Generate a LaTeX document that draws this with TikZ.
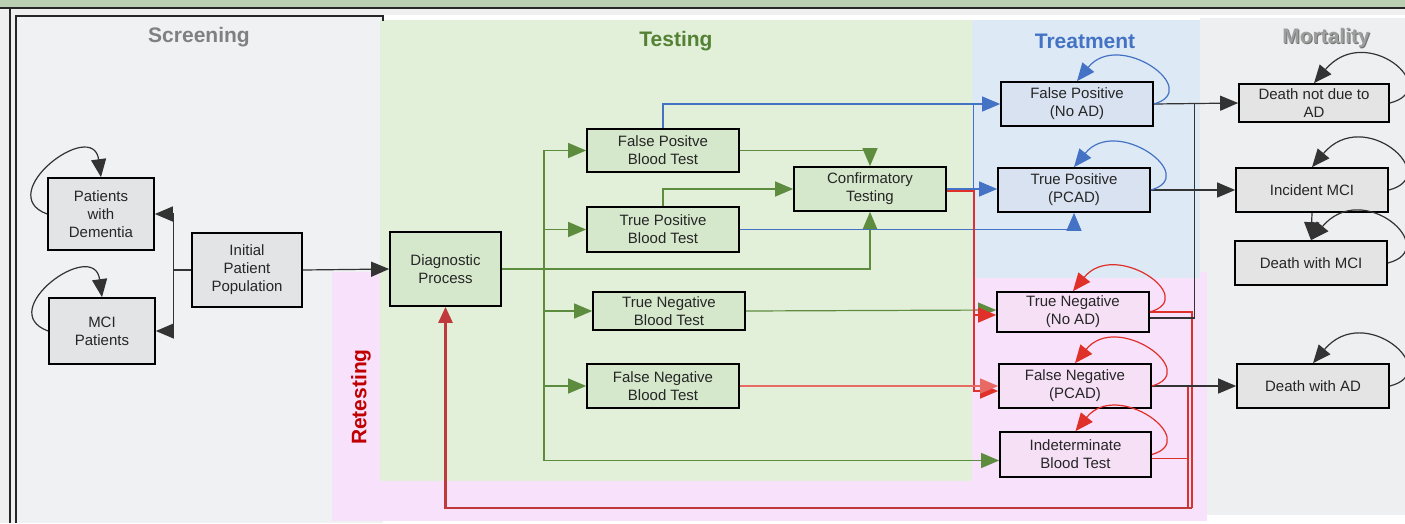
\documentclass[tikz,border=0pt]{standalone}
\usepackage{fontspec}
\setmainfont{Liberation Sans}
\usetikzlibrary{arrows.meta,calc}

\definecolor{bandgreen}{HTML}{BACFB1}
\definecolor{stripgrey}{HTML}{EFEFEF}
\definecolor{scrbg}{HTML}{F0F1F3}
\definecolor{tstbg}{HTML}{E2EFD9}
\definecolor{trtbg}{HTML}{DDE9F5}
\definecolor{morbg}{HTML}{EEEFF0}
\definecolor{rtsbg}{HTML}{F8E1FB}
\definecolor{scrnode}{HTML}{E3E4E6}
\definecolor{tstnode}{HTML}{D5E8CC}
\definecolor{trtnode}{HTML}{D9E2F1}
\definecolor{rtsnode}{HTML}{F6E0F6}
\definecolor{mornode}{HTML}{E4E4E4}
\definecolor{gline}{HTML}{5E8C3F}
\definecolor{bline}{HTML}{4472C4}
\definecolor{rline}{HTML}{E0302A}
\definecolor{rlight}{HTML}{E86A64}
\definecolor{rdark}{HTML}{C0393B}
\definecolor{kline}{HTML}{333333}
\definecolor{ttlgrey}{HTML}{808080}
\definecolor{ttlgreen}{HTML}{548235}
\definecolor{ttlblue}{HTML}{4472C4}
\definecolor{ttlred}{HTML}{C00000}
\definecolor{txt}{HTML}{262626}

\tikzset{
  box/.style={draw=black, line width=1.7pt, align=center, inner sep=1pt,
    text=txt, font=\fontsize{15}{18}\selectfont},
  scrbox/.style={box, fill=scrnode},
  tstbox/.style={box, fill=tstnode},
  trtbox/.style={box, fill=trtnode},
  rtsbox/.style={box, fill=rtsnode},
  morbox/.style={box, fill=mornode},
  title/.style={font=\fontsize{21}{24}\selectfont\bfseries},
  tip/.style={-{Triangle[length=18pt,width=15pt]}},
  conn/.style={line width=1.2pt},
  karr/.style={conn, draw=kline, tip},
  kln/.style={conn, draw=kline},
  garr/.style={conn, draw=gline, tip},
  gln/.style={conn, draw=gline},
  gbus/.style={line width=2.6pt, draw=gline},
  barr/.style={conn, draw=bline, tip},
  bln/.style={conn, draw=bline},
  rarr/.style={line width=1.5pt, draw=rline, tip},
  rlarr/.style={conn, draw=rlight, tip},
  rln/.style={line width=1.3pt, draw=rline},
  rret/.style={line width=2.6pt, draw=rdark, -{Triangle[length=16pt,width=14pt]}},
  kloop/.style={conn, draw=kline, tip},
  bloop/.style={conn, draw=bline, tip},
  rloop/.style={conn, draw=rline, tip},
}

\begin{document}
\begin{tikzpicture}[x=1pt,y=-1pt]
\useasboundingbox (0,0) rectangle (1405,523);
\clip (0,0) rectangle (1405,523);

% backgrounds of the five stages
\fill[white] (0,0) rectangle (1405,523);
\fill[bandgreen] (0,0) rectangle (1405,8);
\fill[stripgrey] (0,8) rectangle (1405,15);
\fill[stripgrey] (0,8) rectangle (16,523);
\fill[scrbg] (16,16) rectangle (383,523);
\fill[morbg] (1200,18) rectangle (1405,515);
\fill[rtsbg] (332,272) rectangle (1207,521);
\fill[tstbg] (380,20) rectangle (972,481);
\fill[trtbg] (972,20) rectangle (1200,278);

% frame lines
\draw[line width=1.4pt, black!85] (0,8) -- (1405,8);
\draw[line width=1.1pt, black!85] (10,8) -- (10,523);
\draw[line width=1.6pt, black!85] (16,523) -- (16,16) -- (383,16) -- (383,21);

% stage titles
\node[title, text=ttlgrey] (tscr) at (199,37) {Screening};
\node[title, text=ttlgreen] (ttst) at (676,41) {Testing};
\node[title, text=ttlblue] (ttrt) at (1085,41) {Treatment};
\node[title, text=black!55] (tmors) at (1327,39) {Mortality};
\node[title, text=black!38] (tmor) at (1326,38) {Mortality};
\node[title, text=ttlred, rotate=90] (trts) at (361,397) {Retesting};

% screening
\node[scrbox, minimum width=106, minimum height=72] (dem) at (101,214) {Patients\\with\\Dementia};
\node[scrbox, minimum width=106, minimum height=66] (mci) at (102,331) {MCI\\Patients};
\node[scrbox, minimum width=110, minimum height=74] (init) at (247,270) {Initial\\Patient\\Population};

% testing
\node[tstbox, minimum width=111, minimum height=74] (diag) at (445.5,269) {Diagnostic\\Process};
\node[tstbox, minimum width=152, minimum height=43] (fpb) at (663,150.5) {False Positve\\Blood Test};
\node[tstbox, minimum width=152, minimum height=45] (tpb) at (663,229.5) {True Positive\\Blood Test};
\node[tstbox, minimum width=152, minimum height=38] (tnb) at (669,311) {True Negative\\Blood Test};
\node[tstbox, minimum width=152, minimum height=44] (fnb) at (663,386) {False Negative\\Blood Test};
\node[tstbox, minimum width=152, minimum height=44] (conf) at (870,189) {Confirmatory\\Testing};

% treatment and retesting states
\node[trtbox, minimum width=152, minimum height=44] (fpn) at (1077,104) {False Positive\\(No AD)};
\node[trtbox, minimum width=152, minimum height=44] (tpn) at (1074,190) {True Positive\\(PCAD)};
\node[rtsbox, minimum width=152, minimum height=40] (tnn) at (1073,312) {True Negative\\(No AD)};
\node[rtsbox, minimum width=152, minimum height=44] (fnn) at (1075,386) {False Negative\\(PCAD)};
\node[rtsbox, minimum width=151, minimum height=45] (ind) at (1075.5,454.5) {Indeterminate\\Blood Test};

% mortality
\node[morbox, minimum width=150, minimum height=38] (dna) at (1314,103) {Death not due to\\AD};
\node[morbox, minimum width=152, minimum height=44] (imc) at (1312,190) {Incident MCI};
\node[morbox, minimum width=152, minimum height=44] (dmc) at (1311,263) {Death with MCI};
\node[morbox, minimum width=152, minimum height=44] (dad) at (1313,386) {Death with AD};

% screening connectors
\draw[karr] (init.west) -- ++(-18,0) |- (dem.east);
\draw[karr] (init.west) -- ++(-18,0) |- (mci.east);
\draw[karr] (init.east) -- (diag.west);
\draw[kloop] (dem.west) .. controls +(-55,-20) and +(-8,-60) .. (dem.north);
\draw[kloop] (mci.west) .. controls +(-55,-20) and +(-8,-60) .. (mci.north);

% testing connectors
\coordinate (bus) at (544,269);
\draw[gbus] (diag.east) -- (bus);
\draw[gln] (bus |- fpb.west) -- (bus |- ind.west);
\draw[garr] (bus) |- (fpb.west);
\draw[garr] (bus) |- (tpb.west);
\draw[garr] (bus) |- (tnb.west);
\draw[garr] (bus) |- (fnb.west);
\draw[garr] (bus) |- ([yshift=-6pt]ind.west);
\draw[garr] (diag.east) -| (conf.south);
\draw[garr] (fpb.east) -| (conf.north);
\draw[garr] (tpb.north) |- (conf.west);
\draw[garr] (tnb.east) -- ([yshift=2pt]tnn.west);

% blue paths into treatment
\draw[barr] (fpb.north) |- (fpn.west);
\draw[barr] (tpb.east) -| (tpn.south);
\draw[barr] (conf.east) -- (conf.east -| tpn.west);
\draw[bln] ([xshift=27pt]conf.east) -- ([xshift=27pt]conf.east |- fpn.west);

% red paths into retesting
\draw[rarr] ([yshift=-2pt]conf.east) -- ++(27,0) |- ([yshift=-3pt]tnn.west);
\draw[rarr] ([yshift=-2pt]conf.east) -- ++(27,0) |- ([yshift=-5pt]fnn.west);
\draw[rlarr] (fnb.east) -- (fnn.west);

% return to the diagnostic process
\coordinate (rb) at (1192,508);
\draw[rln] (tnn.east) -| (rb);
\draw[rln] (fnn.east) -| (1188,508);
\draw[rln] ([yshift=-4pt]ind.east) -| (1188,508);
\draw[rret] (rb) -| (diag.south);

% transitions to mortality
\draw[kln] ([yshift=-6pt]tnn.east) -| ($(fpn.east)+(41,0)$);
\draw[karr] (fpn.east) -- (dna.west);
\draw[karr] (tpn.east) -- (imc.west);
\draw[karr] (fnn.east) -- (dad.west);
\draw[karr] (imc.south) -- (dmc.north);

% self loops
\draw[bloop] (fpn.east) .. controls +(50,-14) and +(42,-52) .. (fpn.north);
\draw[bloop] (tpn.east) .. controls +(50,-14) and +(42,-52) .. (tpn.north);
\draw[rloop] (tnn.east) .. controls +(50,-14) and +(42,-52) .. (tnn.north);
\draw[rloop] (fnn.east) .. controls +(50,-14) and +(42,-52) .. (fnn.north);
\draw[rloop] (ind.east) .. controls +(50,-14) and +(42,-52) .. (ind.north);
\draw[kloop] (dna.east) .. controls +(55,-14) and +(52,-62) .. (dna.north);
\draw[kloop] (imc.east) .. controls +(55,-14) and +(52,-62) .. (imc.north);
\draw[kloop] (dmc.east) .. controls +(55,-14) and +(52,-62) .. (dmc.north);
\draw[kloop] (dad.east) .. controls +(55,-14) and +(52,-62) .. (dad.north);
\end{tikzpicture}
\end{document}
